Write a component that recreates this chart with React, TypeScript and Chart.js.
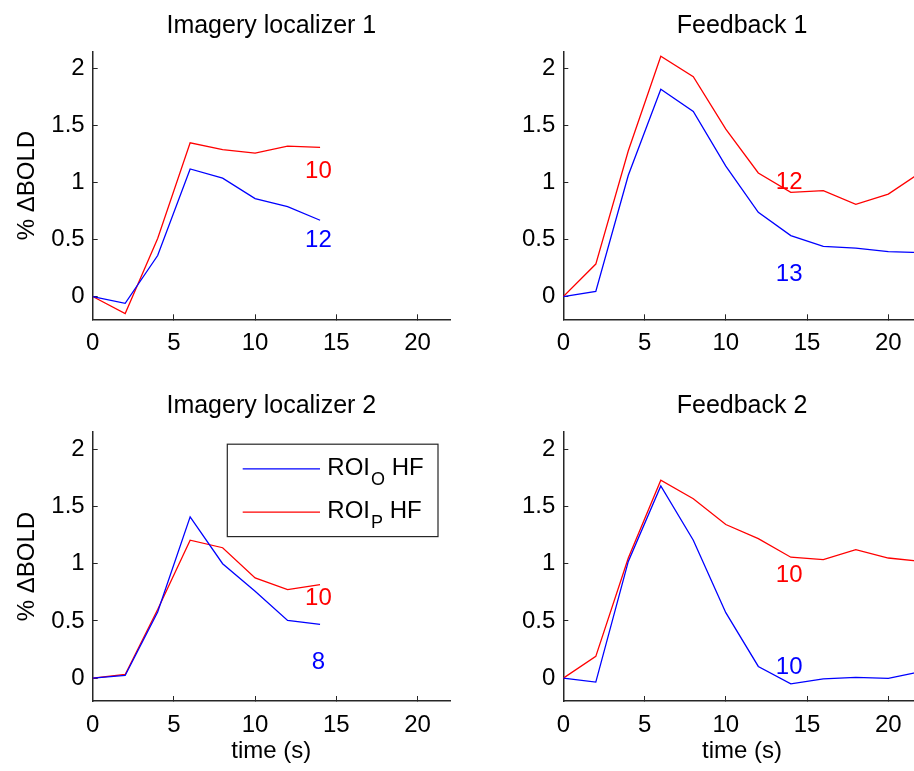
import React, { useEffect, useRef } from "react";
import { Chart, registerables } from "chart.js";

Chart.register(...registerables);

const FONT = '"Liberation Sans", Arial, Helvetica, sans-serif';
const AXIS = "#262626";
const BLUE = "#0000ff";
const RED = "#ff0000";

// ---------- data ----------
const timeLocalizer = [0, 2, 4, 6, 8, 10, 12, 14];
const timeFeedback = [0, 2, 4, 6, 8, 10, 12, 14, 16, 18, 20, 22];

const loc1RoiO = [0, -0.06, 0.36, 1.12, 1.04, 0.86, 0.79, 0.67];
const loc1RoiP = [0, -0.15, 0.51, 1.35, 1.29, 1.26, 1.32, 1.31];

const fb1RoiO = [0, 0.045, 1.065, 1.82, 1.625, 1.145, 0.74, 0.535, 0.44, 0.425, 0.395, 0.385];
const fb1RoiP = [0, 0.285, 1.28, 2.11, 1.93, 1.47, 1.085, 0.915, 0.93, 0.81, 0.9, 1.09];

const loc2RoiO = [0, 0.023, 0.578, 1.41, 1.0, 0.76, 0.505, 0.47];
const loc2RoiP = [0, 0.032, 0.6, 1.206, 1.14, 0.876, 0.774, 0.818];

const fb2RoiO = [0, -0.035, 1.02, 1.68, 1.206, 0.572, 0.102, -0.05, -0.006, 0.006, -0.003, 0.057];
const fb2RoiP = [0, 0.19, 1.05, 1.73, 1.568, 1.343, 1.22, 1.057, 1.036, 1.124, 1.05, 1.02];

// subject counts [ROI_O, ROI_P]
const loc1Counts = ["12", "10"];
const fb1Counts = ["13", "12"];
const loc2Counts = ["8", "10"];
const fb2Counts = ["10", "10"];

const xTickValues = [0, 5, 10, 15, 20];
const yTickValues = [0, 0.5, 1, 1.5, 2];
const seriesNames = [
  { base: "ROI", sub: "O", rest: " HF" },
  { base: "ROI", sub: "P", rest: " HF" },
];

type PanelCfg = {
  title: string;
  time: number[];
  roiO: number[];
  roiP: number[];
  counts: string[];
  countAt: number[][]; // data coords for [ROI_O, ROI_P] count labels
  left: number;
  top: number;
  w: number;
  h: number;
  padTop: number;
  padRight: number;
  yW: number;
  xH: number;
  yTitle: boolean;
  xTitle: boolean;
  legend: boolean;
};

const panels: PanelCfg[] = [
  {
    title: "Imagery localizer 1",
    time: timeLocalizer, roiO: loc1RoiO, roiP: loc1RoiP,
    counts: loc1Counts, countAt: [[13.9, 0.497], [13.9, 1.1]],
    left: 0, top: 0, w: 460, h: 380, padTop: 51.7, padRight: 10, yW: 92.7, xH: 60.7,
    yTitle: true, xTitle: false, legend: false,
  },
  {
    title: "Feedback 1",
    time: timeFeedback, roiO: fb1RoiO, roiP: fb1RoiP,
    counts: fb1Counts, countAt: [[13.9, 0.196], [13.9, 1.004]],
    left: 470, top: 0, w: 460, h: 380, padTop: 51.7, padRight: 9.2, yW: 93.3, xH: 60.7,
    yTitle: false, xTitle: false, legend: false,
  },
  {
    title: "Imagery localizer 2",
    time: timeLocalizer, roiO: loc2RoiO, roiP: loc2RoiP,
    counts: loc2Counts, countAt: [[13.9, 0.142], [13.9, 0.695]],
    left: 0, top: 380, w: 460, h: 391, padTop: 52.2, padRight: 10, yW: 92.7, xH: 70,
    yTitle: true, xTitle: true, legend: true,
  },
  {
    title: "Feedback 2",
    time: timeFeedback, roiO: fb2RoiO, roiP: fb2RoiP,
    counts: fb2Counts, countAt: [[13.9, 0.096], [13.9, 0.897]],
    left: 470, top: 380, w: 460, h: 391, padTop: 52.2, padRight: 9.2, yW: 93.3, xH: 70,
    yTitle: false, xTitle: true, legend: false,
  },
];

function makeDecor(cfg: PanelCfg) {
  return {
    id: "decor",
    afterDraw(chart: any) {
      const ctx = chart.ctx as CanvasRenderingContext2D;
      const a = chart.chartArea;
      const xs = chart.scales.x;
      const ys = chart.scales.y;
      ctx.save();
      // title
      ctx.fillStyle = "#000";
      ctx.font = `25px ${FONT}`;
      ctx.textAlign = "center";
      ctx.textBaseline = "alphabetic";
      ctx.fillText(cfg.title, (a.left + a.right) / 2, a.top - 19);
      // count labels
      ctx.font = `24px ${FONT}`;
      ctx.textBaseline = "middle";
      const colors = [BLUE, RED];
      cfg.counts.forEach((txt, i) => {
        ctx.fillStyle = colors[i];
        ctx.fillText(
          txt,
          xs.getPixelForValue(cfg.countAt[i][0]),
          ys.getPixelForValue(cfg.countAt[i][1])
        );
      });
      // legend
      if (cfg.legend) {
        const bw = 210.7;
        const bh = 92.4;
        const bx = a.right - 12 - bw;
        const by = a.top + 12;
        ctx.fillStyle = "#fff";
        ctx.fillRect(bx, by, bw, bh);
        ctx.strokeStyle = AXIS;
        ctx.lineWidth = 1.2;
        ctx.strokeRect(bx, by, bw, bh);
        const rows = [by + 24.7, by + 68];
        seriesNames.forEach((s, i) => {
          const ly = rows[i];
          ctx.strokeStyle = colors[i];
          ctx.lineWidth = 1.3;
          ctx.beginPath();
          ctx.moveTo(bx + 15.4, ly);
          ctx.lineTo(bx + 92.7, ly);
          ctx.stroke();
          ctx.fillStyle = "#000";
          ctx.textAlign = "left";
          ctx.textBaseline = "alphabetic";
          let tx = bx + 100;
          const base = ly + 6;
          ctx.font = `24px ${FONT}`;
          ctx.fillText(s.base, tx, base);
          tx += ctx.measureText(s.base).width + 1;
          ctx.font = `18px ${FONT}`;
          ctx.fillText(s.sub, tx, base + 10);
          tx += ctx.measureText(s.sub).width;
          ctx.font = `24px ${FONT}`;
          ctx.fillText(s.rest, tx, base);
        });
      }
      ctx.restore();
    },
  };
}

function Panel({ cfg }: { cfg: PanelCfg }) {
  const ref = useRef<HTMLCanvasElement | null>(null);
  useEffect(() => {
    if (!ref.current) return;
    const tickFont = { family: FONT, size: 24 };
    const chart = new Chart(ref.current, {
      type: "line",
      data: {
        datasets: [
          {
            label: "ROI_O HF",
            data: cfg.time.map((t, i) => ({ x: t, y: cfg.roiO[i] })),
            borderColor: BLUE,
            borderWidth: 1.3,
            pointRadius: 0,
            tension: 0,
            fill: false,
          },
          {
            label: "ROI_P HF",
            data: cfg.time.map((t, i) => ({ x: t, y: cfg.roiP[i] })),
            borderColor: RED,
            borderWidth: 1.3,
            pointRadius: 0,
            tension: 0,
            fill: false,
          },
        ],
      },
      options: {
        animation: false,
        responsive: false,
        maintainAspectRatio: false,
        devicePixelRatio: 1,
        layout: { padding: { top: cfg.padTop, right: cfg.padRight, left: 0, bottom: 0 } },
        plugins: {
          legend: { display: false },
          tooltip: { enabled: false },
          title: { display: false },
        },
        scales: {
          x: {
            type: "linear",
            position: "bottom",
            min: 0,
            max: 22,
            afterBuildTicks: (s: any) => {
              s.ticks = xTickValues.map((v) => ({ value: v }));
            },
            afterFit: (s: any) => {
              s.height = cfg.xH;
            },
            grid: {
              display: true,
              drawOnChartArea: false,
              drawTicks: true,
              tickLength: -5,
              color: AXIS,
              lineWidth: 1,
            },
            border: { display: true, color: AXIS, width: 1.5 },
            ticks: {
              padding: 14.5,
              color: "#000",
              font: tickFont,
              maxRotation: 0,
              autoSkip: false,
              callback: (v: any) => String(v),
            },
            title: {
              display: cfg.xTitle,
              text: "time (s)",
              color: "#000",
              font: tickFont,
              padding: { top: 0, bottom: 5 },
            },
          },
          y: {
            type: "linear",
            position: "left",
            min: -0.2,
            max: 2.15,
            afterBuildTicks: (s: any) => {
              s.ticks = yTickValues.map((v) => ({ value: v }));
            },
            afterFit: (s: any) => {
              s.width = cfg.yW;
            },
            grid: {
              display: true,
              drawOnChartArea: false,
              drawTicks: true,
              tickLength: -5,
              color: AXIS,
              lineWidth: 1,
            },
            border: { display: true, color: AXIS, width: 1.5 },
            ticks: {
              padding: 13,
              color: "#000",
              font: tickFont,
              autoSkip: false,
              callback: (v: any) => String(v),
            },
            title: {
              display: cfg.yTitle,
              text: "% \u0394BOLD",
              color: "#000",
              font: tickFont,
              padding: { top: 13, bottom: 0 },
            },
          },
        },
      } as any,
      plugins: [makeDecor(cfg)],
    });
    return () => chart.destroy();
  }, [cfg]);
  return (
    <canvas
      ref={ref}
      width={cfg.w}
      height={cfg.h}
      style={{ position: "absolute", left: cfg.left, top: cfg.top, width: cfg.w, height: cfg.h }}
    />
  );
}

export default function App() {
  return (
    <div
      style={{
        position: "fixed",
        left: 0,
        top: 0,
        width: 914,
        height: 771,
        overflow: "hidden",
        background: "#fff",
      }}
    >
      {panels.map((p, i) => (
        <Panel key={i} cfg={p} />
      ))}
    </div>
  );
}
